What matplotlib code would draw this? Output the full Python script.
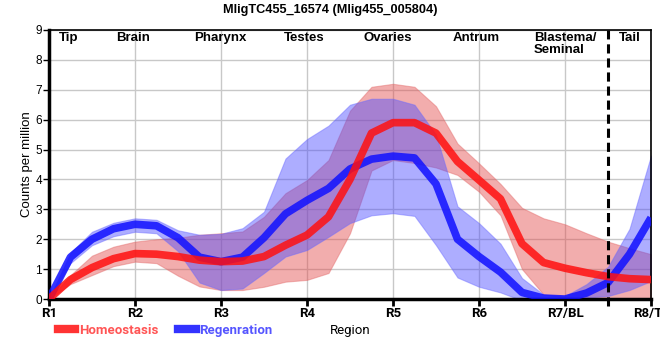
import matplotlib
matplotlib.use("Agg")
import matplotlib.pyplot as plt
from matplotlib.lines import Line2D

plt.rcParams["font.family"] = ["Liberation Sans", "DejaVu Sans"]

# positions along the body axis, quarter-region steps (R1 = 1 ... R8 = 8)
pos = [1.0, 1.25, 1.5, 1.75, 2.0, 2.25, 2.5, 2.75, 3.0, 3.25, 3.5, 3.75, 4.0, 4.25, 4.5,
       4.75, 5.0, 5.25, 5.5, 5.75, 6.0, 6.25, 6.5, 6.75, 7.0, 7.25, 7.5, 7.75, 8.0]

homeo_mean = [0, 0.65, 1.05, 1.35, 1.52, 1.5, 1.42, 1.3, 1.25, 1.27, 1.42, 1.8, 2.14, 2.75, 4.0,
              5.55, 5.9, 5.9, 5.55, 4.6, 3.98, 3.35, 1.85, 1.22, 1.03, 0.88, 0.75, 0.68, 0.65]
homeo_hi = [0, 0.8, 1.45, 1.75, 1.92, 2.0, 2.05, 2.15, 2.2, 2.26, 2.75, 3.54, 3.98, 4.65, 6.3,
            7.1, 7.2, 7.1, 6.45, 5.2, 4.54, 3.85, 3.05, 2.7, 2.5, 2.2, 1.92, 1.7, 1.5]
homeo_lo = [0, 0.5, 0.8, 1.1, 1.25, 1.2, 0.78, 0.42, 0.3, 0.3, 0.41, 0.58, 0.64, 0.87, 2.2,
            4.3, 4.65, 4.55, 4.4, 4.15, 3.59, 2.8, 1.0, 0.15, 0.05, 0.02, 0.0, 0.0, 0.0]

regen_mean = [0, 1.4, 2.0, 2.35, 2.5, 2.45, 2.05, 1.4, 1.25, 1.4, 2.05, 2.85, 3.3, 3.7, 4.35,
              4.68, 4.78, 4.72, 3.85, 2.0, 1.42, 0.9, 0.22, 0.03, 0.0, 0.2, 0.55, 1.5, 2.72]
regen_hi = [0, 1.55, 2.25, 2.55, 2.7, 2.65, 2.3, 2.15, 2.18, 2.37, 2.92, 4.7, 5.35, 5.8, 6.5,
            6.7, 6.7, 6.5, 5.5, 3.1, 2.54, 1.85, 0.7, 0.15, 0.1, 0.5, 1.08, 2.35, 4.8]
regen_lo = [0, 1.2, 1.8, 2.1, 2.25, 2.2, 1.6, 0.55, 0.3, 0.35, 0.87, 1.42, 1.64, 2.08, 2.54,
            2.8, 2.87, 2.78, 1.8, 0.72, 0.41, 0.22, -0.05, -0.1, -0.05, 0.05, 0.1, 0.3, 0.6]

tick_labels = ["R1", "R2", "R3", "R4", "R5", "R6", "R7/BL", "R8/TL"]
regions = ["Tip", "Brain", "Pharynx", "Testes", "Ovaries", "Antrum", "Blastema/\nSeminal", "Tail"]
region_x = [1.23, 1.98, 2.99, 3.97, 4.94, 5.97, 6.64, 7.75]
region_ha = ["center"] * 6 + ["left", "center"]

fig = plt.figure(figsize=(6.6, 3.6), dpi=100)
ax = fig.add_axes([0.0742, 0.1694, 0.9122, 0.7473])

ax.fill_between(pos, homeo_lo, homeo_hi, color="#e34a4a", alpha=0.45, lw=0.8,
                edgecolor="#e36a6a", zorder=2)
ax.fill_between(pos, regen_lo, regen_hi, color="#4a4aff", alpha=0.45, lw=0.8,
                edgecolor="#6a6aff", zorder=2)
ax.plot(pos, regen_mean, color="#1010ff", lw=5.5, alpha=0.85, solid_capstyle="butt",
        solid_joinstyle="round", zorder=3)
ax.plot(pos, homeo_mean, color="#ff1010", lw=5.5, alpha=0.85, solid_capstyle="butt",
        solid_joinstyle="round", zorder=4)

ax.axvline(7.5, color="black", lw=2.2, ls=(0, (3, 1.6)), zorder=5, ymin=-0.025,
           clip_on=False)

ax.set_xlim(1, 8)
ax.set_ylim(0, 9)
ax.set_xticks(range(1, 9))
ax.set_xticklabels(tick_labels, fontsize=9.5, fontweight="bold", family="Roboto")
ax.set_yticks(range(0, 10))
ax.tick_params(axis="y", labelsize=8.5, length=4, width=1, pad=1)
ax.tick_params(axis="x", length=5, width=2, pad=1)
ax.grid(True, color="#c8c8c8", lw=1, zorder=0)
ax.set_axisbelow(True)
for side in ["left", "bottom"]:
    ax.spines[side].set_linewidth(2.5)
for side in ["top", "right"]:
    ax.spines[side].set_linewidth(1.2)

ax.set_ylabel("Counts per million", fontsize=9.5, labelpad=2)

for lbl, xr, ha in zip(regions, region_x, region_ha):
    ax.text(xr, 8.92, lbl, ha=ha, va="top", fontsize=9.5, fontweight="bold",
            linespacing=1.0, zorder=6)

fig.text(0.5, 0.972, "MligTC455_16574 (Mlig455_005804)", ha="center", va="center",
         fontsize=9.2, fontweight="bold")
fig.text(0.53, 0.083, "Region", ha="center", va="center", fontsize=9.5, family="Roboto")

handles = [Line2D([], [], color="#ff3333", lw=6), Line2D([], [], color="#3333ff", lw=6)]
fig.legend(handles, ["Homeostasis", "Regenration"], loc="center left",
           bbox_to_anchor=(0.07, 0.083), ncol=2, frameon=False, handlelength=1.3,
           handletextpad=0.3, columnspacing=1.5,
           labelcolor=["#ff5555", "#5555ff"],
           prop={"family": "Roboto", "weight": "bold", "size": 9.5})

fig.savefig("out.png", dpi=100)
